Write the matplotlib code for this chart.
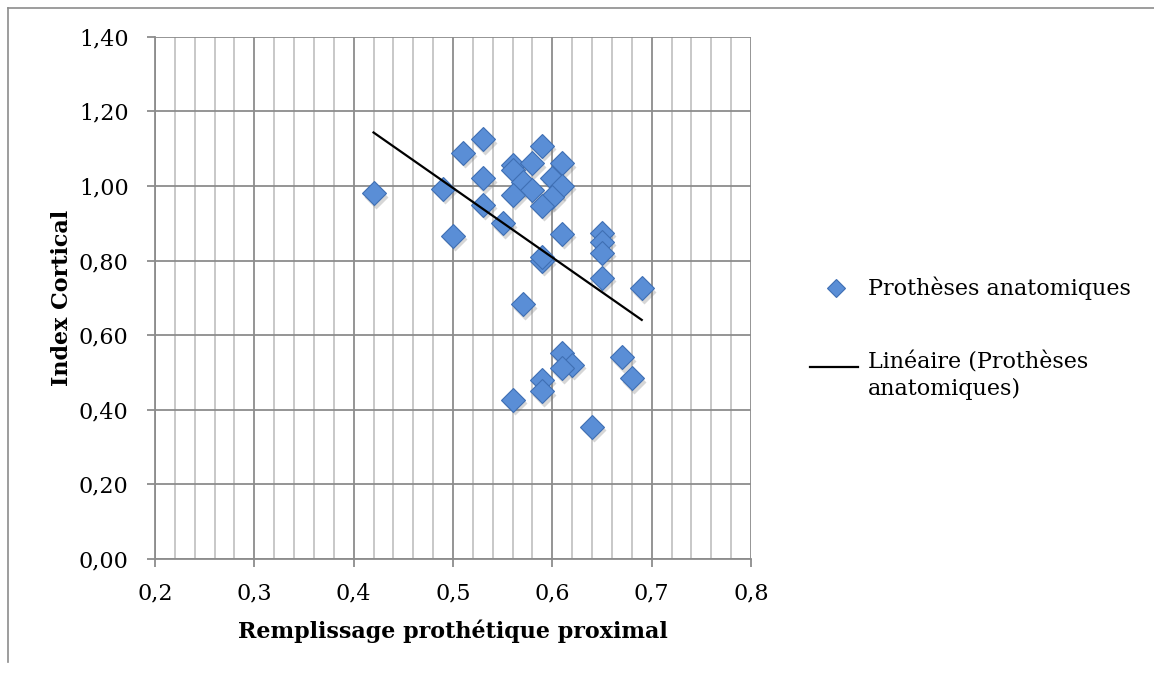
import numpy as np
import matplotlib
matplotlib.use('Agg')
import matplotlib.pyplot as plt
from matplotlib.lines import Line2D
from matplotlib.ticker import MultipleLocator, FuncFormatter

## Data
remplissage = [0.42, 0.53, 0.51, 0.59, 0.56, 0.58, 0.61, 0.56, 0.53, 0.60,
               0.57, 0.61, 0.49, 0.58, 0.56, 0.60, 0.59, 0.53, 0.55, 0.50,
               0.61, 0.65, 0.65, 0.65, 0.59, 0.59, 0.65, 0.69, 0.57, 0.61,
               0.62, 0.61, 0.59, 0.59, 0.56, 0.67, 0.68, 0.64]
index_cortical = [0.98, 1.125, 1.088, 1.107, 1.056, 1.061, 1.061, 1.043, 1.02, 1.02,
                  1.01, 1.00, 0.992, 0.989, 0.976, 0.971, 0.946, 0.949, 0.90, 0.866,
                  0.871, 0.875, 0.851, 0.82, 0.80, 0.81, 0.753, 0.726, 0.683, 0.551,
                  0.52, 0.511, 0.48, 0.449, 0.426, 0.541, 0.484, 0.355]

serie_label = 'Prothèses anatomiques'
trend_label = 'Linéaire (Prothèses\nanatomiques)'

x = np.array(remplissage)
y = np.array(index_cortical)

plt.rcParams['font.family'] = ['DejaVu Serif']
fs = 16

fig = plt.figure(figsize=(11.54, 6.75), dpi=100)
ax = fig.add_axes([155/1154, 1 - 559/675, (751 - 155)/1154, (559 - 36.7)/675])

# linear trend line, like Excel does it
slope, inter = np.polyfit(x, y, 1)
xt = np.array([x.min(), x.max()])
ax.plot(xt, slope*xt + inter, color='black', lw=1.6, zorder=4)

# shadow then diamonds
ax.plot(x + 0.002, y - 0.009, 'D', ms=12.5, color='#7a7a7a', alpha=0.3,
        mec='none', zorder=2)
ax.plot(x, y, 'D', ms=12.5, mfc='#5a8ed6', mec='#3f6fb3', mew=0.8, zorder=3)

ax.set_xlim(0.2, 0.8)
ax.set_ylim(0, 1.4)
ax.xaxis.set_major_locator(MultipleLocator(0.1))
ax.xaxis.set_minor_locator(MultipleLocator(0.02))
ax.yaxis.set_major_locator(MultipleLocator(0.2))
ax.xaxis.set_major_formatter(FuncFormatter(lambda v, p: ('%.1f' % v).replace('.', ',')))
ax.yaxis.set_major_formatter(FuncFormatter(lambda v, p: ('%.2f' % v).replace('.', ',')))

ax.grid(which='major', color='#8c8c8c', lw=1.3)
ax.grid(which='minor', axis='x', color='#c4c4c4', lw=1.3)
ax.set_axisbelow(True)
for s in ax.spines.values():
    s.set_visible(False)
ax.spines['left'].set_visible(True)
ax.spines['bottom'].set_visible(True)
ax.spines['left'].set_color('#8c8c8c')
ax.spines['bottom'].set_color('#8c8c8c')
ax.spines['left'].set_linewidth(1.3)
ax.spines['bottom'].set_linewidth(1.3)

ax.tick_params(which='major', direction='out', length=6, width=1.3, color='#8c8c8c',
               labelsize=fs, pad=11)
ax.tick_params(which='minor', length=0)
ax.tick_params(axis='y', pad=13)

ax.set_xlabel('Remplissage prothétique proximal', fontsize=fs, fontweight='bold', labelpad=11)
ax.set_ylabel('Index Cortical', fontsize=fs, fontweight='bold', labelpad=4)

## legend drawn by hand
fig.add_artist(Line2D([836/1154], [1 - 288/675], marker='D', ms=9, mfc='#5a8ed6',
                      mec='#3f6fb3', mew=0.8, ls='none'))
fig.text(868/1154, 1 - 288/675, serie_label, fontsize=fs, va='center')
fig.add_artist(Line2D([810/1154, 858/1154], [1 - 367/675, 1 - 367/675], color='black', lw=1.6))
fig.text(868/1154, 1 - 352/675, trend_label, fontsize=fs, va='top', linespacing=1.25)

## chart border
fig.add_artist(Line2D([8/1154, 8/1154], [1 - 662/675, 1 - 8/675], color='#8c8c8c', lw=1.2))
fig.add_artist(Line2D([8/1154, 1.0], [1 - 8/675, 1 - 8/675], color='#8c8c8c', lw=1.2))

fig.savefig('out.png', dpi=100)
